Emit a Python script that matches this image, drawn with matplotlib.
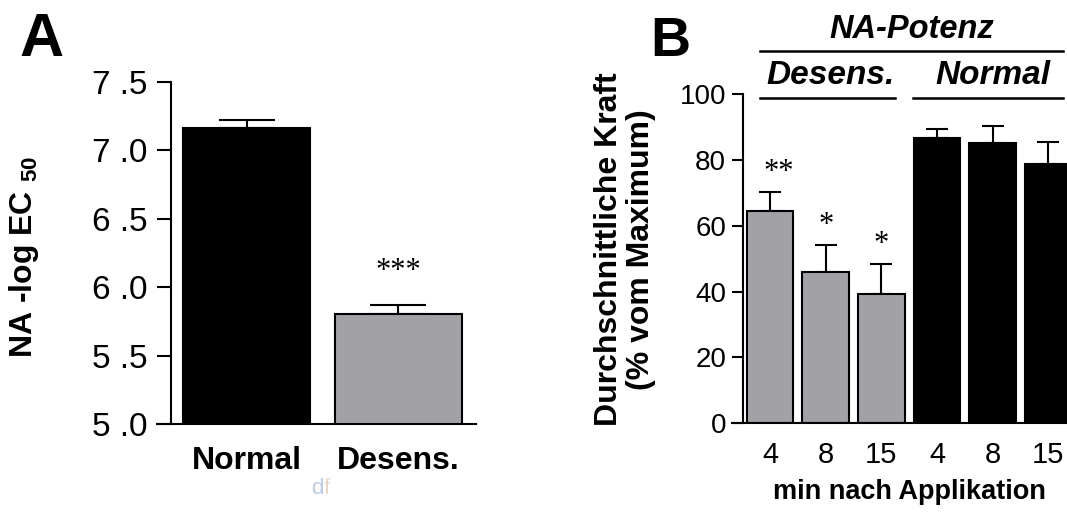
import matplotlib
matplotlib.use("Agg")
import matplotlib.pyplot as plt
from matplotlib.lines import Line2D
import numpy as np

plt.rcParams['font.family'] = ['Liberation Sans', 'DejaVu Sans']
plt.rcParams['mathtext.fontset'] = 'custom'
plt.rcParams['mathtext.rm'] = 'Liberation Sans'
plt.rcParams['mathtext.bf'] = 'Liberation Sans:bold'

# ---------------- data ----------------
a_categories = ["Normal", "Desens."]
a_values = [7.166, 5.804]
a_errors = [0.055, 0.065]
a_yticks = [5.0, 5.5, 6.0, 6.5, 7.0, 7.5]
a_yticklabels = ["5 .0", "5 .5", "6 .0", "6 .5", "7 .0", "7 .5"]
a_stars = ["", "***"]

b_categories = ["4", "8", "15", "4", "8", "15"]
b_values = [64.6, 46.0, 39.3, 86.6, 85.2, 78.7]
b_errors = [5.6, 8.0, 9.0, 2.9, 5.2, 6.8]
b_groups = ["Desens.", "Desens.", "Desens.", "Normal", "Normal", "Normal"]
b_yticks = [0, 20, 40, 60, 80, 100]
b_stars = ["**", "*", "*", "", "", ""]

GRAY = "#a2a1a6"
BLACK = "#000000"
color_map = {"Normal": BLACK, "Desens.": GRAY}

W, H = 1067, 512
fig = plt.figure(figsize=(W / 100, H / 100), dpi=100)

def fx(px):
    return px / W

def fy(py):
    return 1 - py / H

# ---------------- Panel A ----------------
axA = fig.add_axes([fx(157), fy(424), fx(476) - fx(157), fy(82) - fy(424)])
xA = np.arange(len(a_categories))
colsA = [color_map[c] for c in a_categories]
axA.bar(xA, a_values, width=0.836, color=colsA, edgecolor="black", linewidth=1.5, zorder=2)
axA.errorbar(xA, a_values, yerr=[np.zeros(len(a_errors)), a_errors], fmt="none",
             ecolor="black", elinewidth=1.5, capsize=20, capthick=1.5, zorder=1)
axA.set_ylim(5.0, 7.5)
axA.set_xlim(-0.589, 1.51)
axA.spines['top'].set_visible(False)
axA.spines['right'].set_visible(False)
axA.spines['left'].set_position(('data', -0.497))
for s in ['left', 'bottom']:
    axA.spines[s].set_linewidth(1.5)
axA.spines['left'].set_bounds(5.0, 7.5)
axA.set_yticks(a_yticks)
axA.set_yticklabels(a_yticklabels)
axA.tick_params(axis='y', length=10, width=1.5, pad=7, labelsize=24, direction='out')
axA.set_xticks(xA)
axA.set_xticklabels(a_categories, fontweight='bold', fontsize=23)
axA.tick_params(axis='x', length=0, pad=16)
for i, s in enumerate(a_stars):
    if s:
        axA.text(xA[i], a_values[i] + a_errors[i] + 0.14, s, ha='center', va='bottom',
                 fontsize=22, family='Liberation Serif')

fig.text(fx(24), fy(257), r"NA -log EC $_{\mathbf{50}}$", rotation=90, ha='center', va='center',
         fontsize=23, fontweight='bold')
fig.text(fx(42), fy(40), "A", ha='center', va='center', fontsize=44, fontweight='bold')
fig.text(fx(317), fy(488), "d", ha='center', va='center', fontsize=16, color="#bccbe6")
fig.text(fx(327), fy(488), "f", ha='center', va='center', fontsize=16, color="#e8d6c8")

# ---------------- Panel B ----------------
px_unit = 55.66
b_left_px = 731.7
b_right_px = 770 + 5.5 * px_unit
axB = fig.add_axes([fx(b_left_px), fy(423.3), fx(b_right_px) - fx(b_left_px), fy(94) - fy(423.3)])
xB = np.arange(len(b_categories))
colsB = [color_map[g] for g in b_groups]
axB.bar(xB, b_values, width=0.839, color=colsB, edgecolor="black", linewidth=1.5, zorder=2)
axB.errorbar(xB, b_values, yerr=[np.zeros(len(b_errors)), b_errors], fmt="none",
             ecolor="black", elinewidth=1.5, capsize=8, capthick=1.5, zorder=1)
axB.set_ylim(0, 100)
axB.set_xlim((b_left_px - 770) / px_unit, 5.5)
axB.spines['top'].set_visible(False)
axB.spines['right'].set_visible(False)
axB.spines['left'].set_position(('data', -0.49))
for s in ['left', 'bottom']:
    axB.spines[s].set_linewidth(1.5)
axB.set_yticks(b_yticks)
axB.tick_params(axis='y', length=8, width=1.5, pad=4, labelsize=20, direction='out')
axB.set_xticks(xB)
axB.set_xticklabels(b_categories, fontsize=21)
axB.tick_params(axis='x', length=0, pad=13)
for i, s in enumerate(b_stars):
    if s:
        axB.text(xB[i] + (0.15 if len(s) > 1 else 0), b_values[i] + b_errors[i] + 1.6, s,
                 ha='center', va='bottom', fontsize=22, family='Liberation Serif')

fig.text(fx(609), fy(249), "Durchschnittliche Kraft", rotation=90, ha='center', va='center',
         fontsize=23, fontweight='bold')
fig.text(fx(641), fy(250), "(% vom Maximum)", rotation=90, ha='center', va='center',
         fontsize=23, fontweight='bold')
fig.text(fx(909), fy(492), "min nach Applikation", ha='center', va='center',
         fontsize=19.5, fontweight='bold')
fig.text(fx(670), fy(42), "B", ha='center', va='center', fontsize=40, fontweight='bold')

# group header lines and labels
def hline(x0, x1, y):
    fig.add_artist(Line2D([fx(x0), fx(x1)], [fy(y), fy(y)], color='black', linewidth=1.8))

hline(760, 1063, 50.7)
hline(760, 895, 97.7)
hline(913, 1063, 97.7)
fig.text(fx(912), fy(30), "NA-Potenz", ha='center', va='center', fontsize=23.5,
         fontweight='bold', fontstyle='italic')
fig.text(fx(831), fy(76), "Desens.", ha='center', va='center', fontsize=24,
         fontweight='bold', fontstyle='italic')
fig.text(fx(993), fy(76), "Normal", ha='center', va='center', fontsize=24,
         fontweight='bold', fontstyle='italic')

fig.savefig("out.png", dpi=100)
